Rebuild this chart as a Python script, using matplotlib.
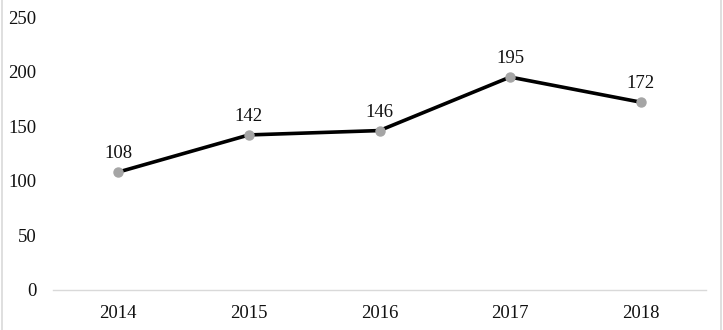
import matplotlib
matplotlib.use("Agg")
import matplotlib.pyplot as plt
from matplotlib.lines import Line2D

years = ["2014", "2015", "2016", "2017", "2018"]
values = [108, 142, 146, 195, 172]
yticks = [0, 50, 100, 150, 200, 250]

plt.rcParams['font.family'] = ['Liberation Serif', 'DejaVu Serif']

fig = plt.figure(figsize=(7.23, 3.3), dpi=100)
W, H = 723, 330
ax = fig.add_axes([53 / W, 1 - 290 / H, (706 - 53) / W, (290 - 17) / H])

x = list(range(len(years)))
ax.plot(x, values, color='black', linewidth=2.6, zorder=2)
ax.plot(x, values, linestyle='none', marker='o', markersize=6.5,
        markerfacecolor='#a5a5a5', markeredgecolor='#a5a5a5', zorder=3)
for xi, v in zip(x, values):
    ax.annotate(str(v), (xi, v), xytext=(0, 7), textcoords='offset points',
                ha='center', va='bottom', fontsize=13.5, color='#111111')

ax.set_xlim(-0.5, len(years) - 0.5)
ax.set_ylim(0, 250)
ax.set_xticks(x)
ax.set_xticklabels(years)
ax.set_yticks(yticks)
ax.set_yticklabels([str(t) for t in yticks])
ax.tick_params(axis='both', length=0, labelsize=13.5, colors='#111111')
ax.tick_params(axis='y', pad=12)
ax.tick_params(axis='x', pad=11)
for s in ['top', 'right', 'left']:
    ax.spines[s].set_visible(False)
ax.spines['bottom'].set_color('#d9d9d9')
ax.spines['bottom'].set_linewidth(1)

# figure border lines at left and right
fig.add_artist(Line2D([1.5 / W, 1.5 / W], [0, 1], color='#d9d9d9', linewidth=1.2, transform=fig.transFigure))
fig.add_artist(Line2D([720.5 / W, 720.5 / W], [0, 1], color='#d9d9d9', linewidth=1.2, transform=fig.transFigure))

fig.savefig('out.png', dpi=100)
